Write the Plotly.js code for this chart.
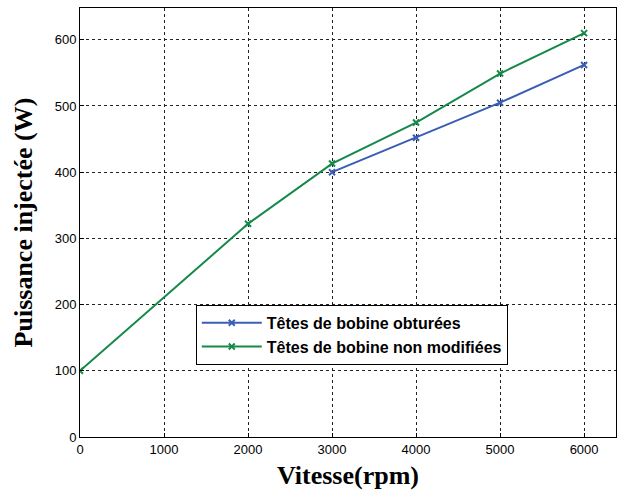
<!DOCTYPE html>
<html><head><meta charset="utf-8">
<script src="https://cdn.plot.ly/plotly-3.0.1.min.js"></script>
<style>html,body{margin:0;padding:0;background:#fff}</style>
</head><body><div id="chart" style="width:618px;height:496px"></div>
<script>
const speedObt = [3000, 4000, 5000, 6000];
const powerObt = [400, 452, 505, 562];
const speedNon = [0, 2000, 3000, 4000, 5000, 6000];
const powerNon = [100, 322, 413, 475, 549, 610];
const nameObt = 'Têtes de bobine obturées';
const nameNon = 'Têtes de bobine non modifiées';
const xTicks = [0, 1000, 2000, 3000, 4000, 5000, 6000];
const yTicks = [0, 100, 200, 300, 400, 500, 600];

const traces = [
  {x: speedObt, y: powerObt, name: nameObt, mode: 'lines+markers',
   line: {color: '#3a5db5', width: 2},
   marker: {symbol: 'x-thin', size: 6, line: {color: '#3a5db5', width: 2}}},
  {x: speedNon, y: powerNon, name: nameNon, mode: 'lines+markers',
   line: {color: '#15894a', width: 2},
   marker: {symbol: 'x-thin', size: 6, line: {color: '#15894a', width: 2}}}
];
const axisCommon = {
  showline: true, linecolor: '#000', linewidth: 1, mirror: true,
  showgrid: true, gridcolor: '#222', griddash: 'dot', gridwidth: 1,
  zeroline: false, ticks: 'inside', ticklen: 4, tickcolor: '#000',
  tickfont: {family: 'Liberation Sans, Arial', size: 13, color: '#000'}
};
const layout = {
  width: 618, height: 496,
  margin: {l: 80, r: 2, t: 8, b: 59},
  paper_bgcolor: '#fff', plot_bgcolor: '#fff',
  showlegend: true,
  legend: {x: 0.216, y: 0.308, xanchor: 'left', yanchor: 'top',
    bgcolor: '#fff', bordercolor: '#000', borderwidth: 1,
    font: {family: 'Liberation Sans, Arial', size: 16, color: '#000', weight: 'bold'},
    itemwidth: 60, tracegroupgap: 0},
  xaxis: Object.assign({}, axisCommon, {range: [0, 6380], tickvals: xTicks,
    title: {text: '<b>Vitesse(rpm)</b>', standoff: 10,
      font: {family: 'Liberation Serif, Times New Roman', size: 26, color: '#000'}}}),
  yaxis: Object.assign({}, axisCommon, {range: [0, 648], tickvals: yTicks,
    title: {text: '<b>Puissance injectée (W)</b>', standoff: 14,
      font: {family: 'Liberation Serif, Times New Roman', size: 26, color: '#000'}}})
};
Plotly.newPlot('chart', traces, layout, {displayModeBar: false});
</script></body></html>
